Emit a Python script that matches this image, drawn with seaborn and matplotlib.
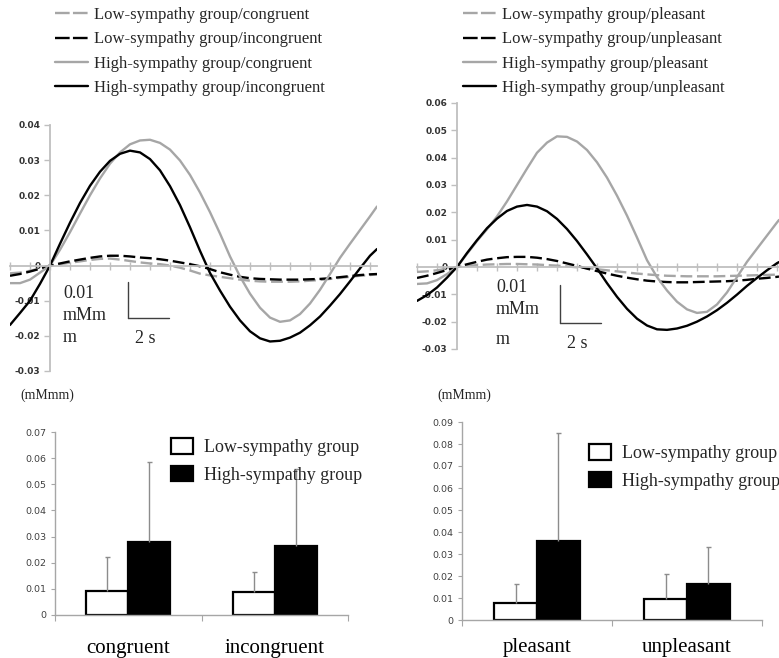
import numpy as np
import pandas as pd
import matplotlib
matplotlib.use("Agg")
import matplotlib.pyplot as plt
import seaborn as sns
from matplotlib.lines import Line2D

sns.set_theme(style="white")
plt.rcParams["font.family"] = ["Liberation Serif", "DejaVu Serif"]

W, H = 779, 658

# ---------------- data: line panels ----------------
t_left = np.arange(-2, 16.01, 0.5).tolist() + [16.35]
t_right = np.arange(-2, 16.01, 0.5).tolist() + [16.1]

low_congruent = [-0.0022, -0.0020, -0.0015, -0.0008, 0.0,
                 0.0004, 0.0008, 0.0012, 0.0016, 0.0019, 0.0020, 0.0017, 0.0013,
                 0.0009, 0.0006, 0.0004, 0.0000, -0.0006, -0.0014, -0.0023,
                 -0.0028, -0.0032, -0.0036, -0.0040, -0.0043, -0.0045, -0.0046,
                 -0.0046, -0.0046, -0.0045, -0.0043, -0.0041, -0.0038, -0.0035, -0.0032, -0.0029,
                 -0.0027, -0.0025]
low_incongruent = [-0.0029, -0.0024, -0.0017, -0.0009, 0.0,
                   0.0006, 0.0012, 0.0017, 0.0022, 0.0026, 0.0028, 0.0028, 0.0026,
                   0.0023, 0.0021, 0.0018, 0.0014, 0.0009, 0.0004, -0.0002,
                   -0.0010, -0.0019, -0.0026, -0.0032, -0.0036, -0.0038, -0.0039,
                   -0.0040, -0.0040, -0.0040, -0.0039, -0.0038, -0.0036, -0.0033, -0.0030, -0.0027,
                   -0.0025, -0.0024]
high_congruent = [-0.0050, -0.0050, -0.0040, -0.0020, 0.0,
                  0.0045, 0.0095, 0.0148, 0.0200, 0.0248, 0.0290, 0.0322, 0.0345,
                  0.0356, 0.0358, 0.0349, 0.0330, 0.0299, 0.0258, 0.0208,
                  0.0152, 0.0091, 0.0026, -0.0031, -0.0080, -0.0120, -0.0148,
                  -0.0160, -0.0156, -0.0138, -0.0108, -0.0069, -0.0024, 0.0022, 0.0062, 0.0101,
                  0.0140, 0.0168]
high_incongruent = [-0.0169, -0.0135, -0.0100, -0.0052, 0.0,
                    0.0062, 0.0122, 0.0178, 0.0227, 0.0267, 0.0298, 0.0318, 0.0327,
                    0.0322, 0.0303, 0.0271, 0.0226, 0.0172, 0.0109, 0.0042,
                    -0.0021, -0.0071, -0.0117, -0.0156, -0.0187, -0.0207, -0.0216,
                    -0.0214, -0.0205, -0.0191, -0.0170, -0.0145, -0.0114, -0.0081, -0.0045, -0.0008,
                    0.0028, 0.0047]

low_pleasant = [-0.0018, -0.0016, -0.0012, -0.0006, 0.0,
                0.0004, 0.0007, 0.0009, 0.0010, 0.0011, 0.0011, 0.0010, 0.0009,
                0.0007, 0.0005, 0.0002, -0.0001, -0.0004, -0.0008, -0.0012,
                -0.0016, -0.0020, -0.0024, -0.0027, -0.0030, -0.0032, -0.0033,
                -0.0034, -0.0034, -0.0034, -0.0034, -0.0033, -0.0032, -0.0031, -0.0030, -0.0029,
                -0.0028, -0.0028]
low_unpleasant = [-0.0040, -0.0032, -0.0022, -0.0011, 0.0,
                  0.0010, 0.0019, 0.0027, 0.0032, 0.0036, 0.0037, 0.0037, 0.0034,
                  0.0029, 0.0022, 0.0013, 0.0004, -0.0006, -0.0015, -0.0024,
                  -0.0032, -0.0039, -0.0045, -0.0050, -0.0053, -0.0055, -0.0056,
                  -0.0056, -0.0055, -0.0054, -0.0053, -0.0052, -0.0050, -0.0047, -0.0043, -0.0040,
                  -0.0036, -0.0035]
high_pleasant = [-0.0062, -0.0060, -0.0048, -0.0026, 0.0,
                 0.0048, 0.0095, 0.0138, 0.0185, 0.0240, 0.0300, 0.0360, 0.0418,
                 0.0455, 0.0478, 0.0476, 0.0459, 0.0428, 0.0383, 0.0327,
                 0.0261, 0.0188, 0.0108, 0.0025, -0.0037, -0.0086, -0.0127,
                 -0.0155, -0.0168, -0.0164, -0.0137, -0.0093, -0.0037, 0.0019, 0.0067, 0.0115,
                 0.0163, 0.0172]
high_unpleasant = [-0.0124, -0.0103, -0.0075, -0.0039, 0.0,
                   0.0051, 0.0098, 0.0142, 0.0177, 0.0205, 0.0221, 0.0227, 0.0221,
                   0.0204, 0.0176, 0.0139, 0.0095, 0.0046, -0.0005, -0.0059,
                   -0.0109, -0.0153, -0.0189, -0.0214, -0.0228, -0.0230, -0.0225,
                   -0.0215, -0.0200, -0.0181, -0.0158, -0.0131, -0.0101, -0.0069, -0.0040, -0.0012,
                   0.0014, 0.0018]

left_labels = ["Low-sympathy group/congruent", "Low-sympathy group/incongruent",
               "High-sympathy group/congruent", "High-sympathy group/incongruent"]
right_labels = ["Low-sympathy group/pleasant", "Low-sympathy group/unpleasant",
                "High-sympathy group/pleasant", "High-sympathy group/unpleasant"]

left_yticks = [-0.03, -0.02, -0.01, 0, 0.01, 0.02, 0.03, 0.04]
left_yticklabels = ["-0.03", "-0.02", "-0.01", "0", "0.01", "0.02", "0.03", "0.04"]
right_yticks = [-0.03, -0.02, -0.01, 0, 0.01, 0.02, 0.03, 0.04, 0.05, 0.06]
right_yticklabels = ["-0.03", "-0.02", "-0.01", "0", "0.01", "0.02", "0.03", "0.04", "0.05", "0.06"]

# ---------------- data: bar panels ----------------
groups = ["Low-sympathy group", "High-sympathy group"]
cats_left = ["congruent", "incongruent"]
means_left_low = [0.0093, 0.0088]
means_left_high = [0.0279, 0.0263]
sd_left_low = [0.0128, 0.0076]
sd_left_high = [0.0305, 0.0297]

cats_right = ["pleasant", "unpleasant"]
means_right_low = [0.0076, 0.0097]
means_right_high = [0.0360, 0.0162]
sd_right_low = [0.0086, 0.0111]
sd_right_high = [0.0491, 0.0168]

bar_left_yticks = [0, 0.01, 0.02, 0.03, 0.04, 0.05, 0.06, 0.07]
bar_left_yticklabels = ["0", "0.01", "0.02", "0.03", "0.04", "0.05", "0.06", "0.07"]
bar_right_yticks = [0, 0.01, 0.02, 0.03, 0.04, 0.05, 0.06, 0.07, 0.08, 0.09]
bar_right_yticklabels = ["0", "0.01", "0.02", "0.03", "0.04", "0.05", "0.06", "0.07", "0.08", "0.09"]

GRAY = "#a6a6a6"
AXGRAY = "#bfbfbf"


def box(x0, y0, x1, y1):
    return [x0 / W, 1 - y1 / H, (x1 - x0) / W, (y1 - y0) / H]


def fx(px):
    return px / W


def fy(py):
    return 1 - py / H


fig = plt.figure(figsize=(W / 100, H / 100), dpi=100)
fig.patch.set_facecolor("white")


def line_panel(rect, t, series, labels, xlim, ylim, yticks, yticklabels, leg_x):
    ax = fig.add_axes(rect)
    ax.set_facecolor("none")
    rows = []
    for lab, vals in zip(labels, series):
        for tt, v in zip(t, vals):
            rows.append((tt, v, lab))
    df = pd.DataFrame(rows, columns=["t", "v", "series"])
    palette = {labels[0]: GRAY, labels[1]: "black", labels[2]: GRAY, labels[3]: "black"}
    dashes = {labels[0]: (5, 2), labels[1]: (5, 2), labels[2]: "", labels[3]: ""}
    sns.lineplot(data=df, x="t", y="v", hue="series", style="series",
                 hue_order=labels, style_order=labels,
                 palette=palette, dashes=dashes, linewidth=1.7,
                 legend=False, ax=ax, sort=False, estimator=None)
    ax.set_xlim(*xlim)
    ax.set_ylim(*ylim)
    for s in ["top", "right"]:
        ax.spines[s].set_visible(False)
    ax.spines["left"].set_position(("data", 0))
    ax.spines["bottom"].set_position(("data", 0))
    for s in ["left", "bottom"]:
        ax.spines[s].set_color(AXGRAY)
        ax.spines[s].set_linewidth(1.3)
    ax.set_xticks(np.arange(-2, int(xlim[1]) + 1, 1))
    ax.set_xticklabels([])
    ax.tick_params(axis="x", direction="inout", length=6, width=1, color=AXGRAY, bottom=True)
    ax.set_yticks(yticks)
    ax.set_yticklabels(yticklabels, fontfamily="DejaVu Sans", fontweight="bold",
                       fontsize=6.5, color="#333333")
    ax.tick_params(axis="y", direction="out", length=4, width=1, color=AXGRAY, left=True, pad=3)
    ax.set_xlabel("")
    ax.set_ylabel("")
    # legend proxies share colour/width of the drawn lines; dashed ones use a long-short pattern
    handles = []
    for ln in ax.lines[:4]:
        dashed = ln.get_linestyle() not in ("-", "solid")
        handles.append(Line2D([], [], color=ln.get_color(), lw=ln.get_linewidth(),
                              linestyle=(0, (6.2, 1.4)) if dashed else "-"))
    fig.legend(handles, labels, loc="upper left", bbox_to_anchor=(fx(leg_x), fy(7)),
               frameon=False, fontsize=12, handlelength=2.0, handletextpad=0.35,
               labelspacing=0.5, borderpad=0, borderaxespad=0)
    return ax


ax_tl = line_panel(box(10, 125, 377, 371), t_left,
                   [low_congruent, low_incongruent, high_congruent, high_incongruent],
                   left_labels, (-2, 16.35), (-0.03, 0.04), left_yticks, left_yticklabels, 55)
ax_tr = line_panel(box(417, 103, 779, 349), t_right,
                   [low_pleasant, low_unpleasant, high_pleasant, high_unpleasant],
                   right_labels, (-2, 16.1), (-0.03, 0.06), right_yticks, right_yticklabels, 463)

# scale-bar annotations
def scalebar(xv, y0, y1, x1):
    fig.add_artist(Line2D([fx(xv), fx(xv)], [fy(y0), fy(y1)], color="#404040", lw=1.0))
    fig.add_artist(Line2D([fx(xv), fx(x1)], [fy(y1), fy(y1)], color="#404040", lw=1.0))


scalebar(128, 282, 318, 169)
scalebar(560, 285, 323, 601)
for x0, ys in [(63, (293, 316, 337)), (496, (287, 310, 339))]:
    for txt, yy in zip(["0.01", "mMm", "m"], ys):
        fig.text(fx(x0), fy(yy), txt, fontsize=13, ha="left", va="center")
fig.text(fx(145), fy(338), "2 s", fontsize=13, ha="center", va="center")
fig.text(fx(577), fy(343), "2 s", fontsize=13, ha="center", va="center")
fig.text(fx(20), fy(395), "(mMmm)", fontsize=10, ha="left", va="center")
fig.text(fx(437), fy(395), "(mMmm)", fontsize=10, ha="left", va="center")


def bar_panel(rect, cats, m_low, m_high, s_low, s_high, ylim, yticks, yticklabels,
              leg_xy, xpad):
    ax = fig.add_axes(rect)
    ax.set_facecolor("none")
    df = pd.DataFrame({
        "cat": cats + cats,
        "group": [groups[0]] * len(cats) + [groups[1]] * len(cats),
        "mean": m_low + m_high,
    })
    sns.barplot(data=df, x="cat", y="mean", hue="group", order=cats, hue_order=groups,
                palette={groups[0]: "white", groups[1]: "black"}, width=0.57,
                edgecolor="black", linewidth=1.6, errorbar=None, legend=False, ax=ax,
                saturation=1)
    bar_conts = list(ax.containers)
    sds = [s_low, s_high]
    for cont, sd in zip(bar_conts, sds):
        for patch, e in zip(cont.patches, sd):
            xc = patch.get_x() + patch.get_width() / 2
            h = patch.get_height()
            _, caps, _ = ax.errorbar([xc], [h], yerr=[[0], [e]], fmt="none", ecolor="#8c8c8c",
                                     elinewidth=1.0, capsize=1.8, capthick=1.0, zorder=1)
            for c in caps:
                if np.allclose(c.get_ydata(), h):
                    c.set_visible(False)
    ax.set_xlim(-0.5, len(cats) - 0.5)
    ax.set_ylim(*ylim)
    for s in ["top", "right"]:
        ax.spines[s].set_visible(False)
    for s in ["left", "bottom"]:
        ax.spines[s].set_color("#a6a6a6")
        ax.spines[s].set_linewidth(1.0)
    ax.set_yticks(yticks)
    ax.set_yticklabels(yticklabels, fontfamily="DejaVu Sans", fontsize=6.8, color="#404040")
    ax.tick_params(axis="y", direction="out", length=3, width=0.8, color="#a6a6a6", left=True, pad=3)
    ax.set_xticks(range(len(cats)))
    ax.set_xticklabels(cats, fontsize=15, color="black")
    ax.tick_params(axis="x", length=0, pad=xpad)
    ax.set_xticks([-0.5 + i for i in range(len(cats) + 1)], minor=True)
    ax.tick_params(axis="x", which="minor", direction="out", length=4, width=0.8,
                   color="#a6a6a6", bottom=True)
    ax.set_xlabel("")
    ax.set_ylabel("")
    handles = [cont.patches[0] for cont in bar_conts]
    fig.legend(handles, groups, loc="upper left", bbox_to_anchor=(fx(leg_xy[0]), fy(leg_xy[1])),
               frameon=False, fontsize=13, handlelength=1.2, handleheight=0.95,
               handletextpad=0.6, labelspacing=0.55, borderpad=0, borderaxespad=0)
    return ax


bar_panel(box(55, 432, 348, 615), cats_left, means_left_low, means_left_high,
          sd_left_low, sd_left_high, (0, 0.07), bar_left_yticks, bar_left_yticklabels,
          (171, 438), 17.5)
bar_panel(box(462, 422, 762, 620), cats_right, means_right_low, means_right_high,
          sd_right_low, sd_right_high, (0, 0.09), bar_right_yticks, bar_right_yticklabels,
          (589, 444), 13.2)

fig.savefig("out.png", dpi=100, facecolor="white")
